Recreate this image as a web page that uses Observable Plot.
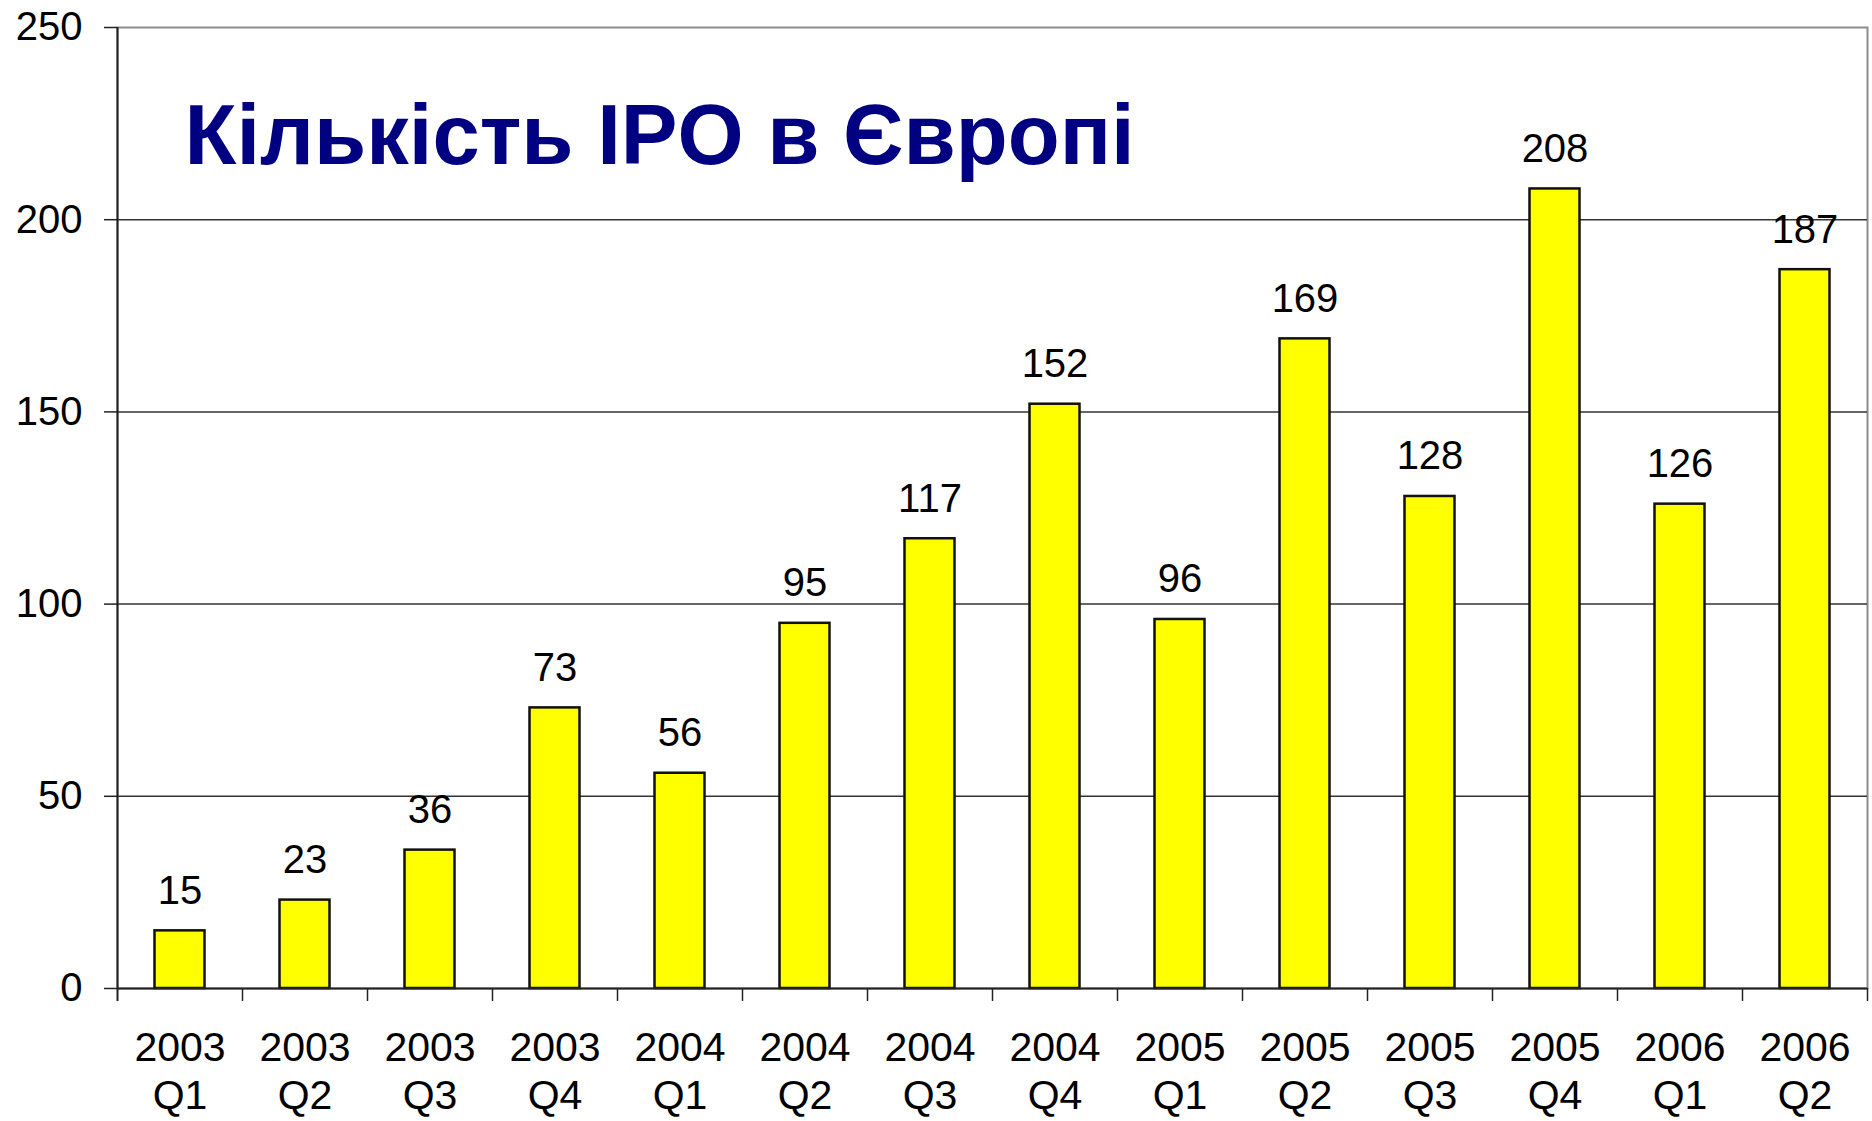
<!DOCTYPE html>
<html>
<head>
<meta charset="utf-8">
<script src="https://cdn.jsdelivr.net/npm/d3@7"></script>
<script src="https://cdn.jsdelivr.net/npm/@observablehq/plot@0.6"></script>
<style>
  html, body { margin: 0; padding: 0; background: #fff; }
  #chart svg { display: block; font-family: "Liberation Sans", Arial, sans-serif; }
</style>
</head>
<body>
<div id="chart"></div>
<script>
const years = ["2003","2003","2003","2003","2004","2004","2004","2004","2005","2005","2005","2005","2006","2006"];
const quarters = ["Q1","Q2","Q3","Q4","Q1","Q2","Q3","Q4","Q1","Q2","Q3","Q4","Q1","Q2"];
const values = [15, 23, 36, 73, 56, 95, 117, 152, 96, 169, 128, 208, 126, 187];
const yTicks = [0, 50, 100, 150, 200, 250];
const gridTicks = [50, 100, 150, 200];
const title = "Кількість IPO в Європі";

const categories = years.map((y, i) => `${y}\n${quarters[i]}`);
const data = categories.map((c, i) => ({cat: c, value: values[i]}));

const W = 1872, H = 1121;
const mL = 117, mR = 5, mT = 27, mB = 133;
const plotH = H - mT - mB;
const bw = (W - mL - mR) / categories.length;
const font = "Liberation Sans, Arial, sans-serif";

const chart = Plot.plot({
  width: W,
  height: H,
  marginLeft: mL,
  marginRight: mR,
  marginTop: mT,
  marginBottom: mB,
  style: {fontFamily: font, background: "#fff", overflow: "visible"},
  x: {domain: categories, padding: 0, axis: null, label: null},
  y: {domain: [0, 250], axis: null, label: null},
  marks: [
    Plot.frame({stroke: "#8c8c8c", strokeWidth: 2}),
    Plot.gridY(gridTicks, {stroke: "#333", strokeOpacity: 1, strokeWidth: 1.5}),
    Plot.barY(data, {x: "cat", y: "value", fill: "#ffff00", stroke: "#111", strokeWidth: 2.5, insetLeft: 37.5, insetRight: 37.5}),
    Plot.ruleY([0], {stroke: "#222", strokeWidth: 2}),
    // left axis line
    Plot.ruleX([categories[0]], {dx: -bw / 2, stroke: "#222", strokeWidth: 2, insetBottom: -13}),
    // category boundary ticks
    Plot.ruleX(categories, {dx: bw / 2, stroke: "#222", strokeWidth: 1.5, insetTop: plotH, insetBottom: -13}),
    Plot.axisY(yTicks, {tickSize: 13, tickPadding: 22, fontSize: 40, fill: "#000", stroke: "#222", strokeWidth: 1.5, label: null}),
    Plot.axisX({tickSize: 0, tickPadding: 38, fontSize: 41, lineHeight: 1.18, fill: "#000", label: null}),
    Plot.text(data, {x: "cat", y: "value", text: d => String(d.value), dy: -27, lineAnchor: "bottom", fontSize: 40, fill: "#000"}),
    Plot.text([title], {frameAnchor: "top-left", dx: 67, dy: 109, textAnchor: "start", lineAnchor: "middle", fontSize: 85, fontWeight: "bold", fill: "#000080"})
  ]
});
document.getElementById("chart").appendChild(chart);
</script>
</body>
</html>
